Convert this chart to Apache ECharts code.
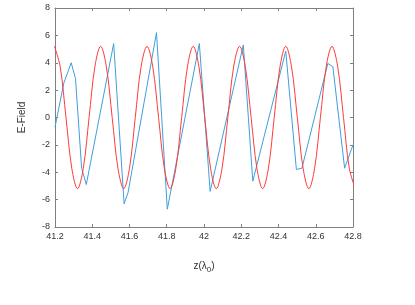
<!DOCTYPE html>
<html>
<head>
<meta charset="utf-8">
<script src="https://cdn.jsdelivr.net/npm/echarts@6/dist/echarts.min.js"></script>
<style>
  html, body { margin: 0; padding: 0; background: #fff; }
  #main { width: 415px; height: 305px; }
</style>
</head>
<body>
<div id="main"></div>
<script>
// red curve
var redZ = [41.197, 41.228, 41.259, 41.290, 41.321, 41.352, 41.383, 41.414,
  41.445, 41.476, 41.507, 41.538, 41.569, 41.600, 41.631, 41.662,
  41.694, 41.725, 41.756, 41.787, 41.818, 41.849, 41.880, 41.911,
  41.942, 41.973, 42.004, 42.035, 42.066, 42.097, 42.128, 42.159,
  42.191, 42.222, 42.253, 42.284, 42.315, 42.346, 42.377, 42.408,
  42.439, 42.470, 42.501, 42.532, 42.563, 42.594, 42.625, 42.656,
  42.687, 42.718, 42.749, 42.780, 42.812];
var redE = [5.2, 3.7, 0, -3.7, -5.2, -3.7, 0, 3.7,
  5.2, 3.7, 0, -3.7, -5.2, -3.7, 0, 3.7,
  5.2, 3.7, 0, -3.7, -5.2, -3.7, 0, 3.7,
  5.2, 3.7, 0, -3.7, -5.2, -3.7, 0, 3.7,
  5.2, 3.7, 0, -3.7, -5.2, -3.7, 0, 3.7,
  5.2, 3.7, 0, -3.7, -5.2, -3.7, 0, 3.7,
  5.2, 3.7, 0, -3.7, -5.2];

// blue jagged line
var blueZ = [41.2, 41.247, 41.287, 41.31, 41.343, 41.368, 41.515, 41.571, 41.592,
  41.745, 41.803, 41.975, 42.033, 42.211, 42.262, 42.439, 42.496, 42.526,
  42.665, 42.692, 42.755, 42.8];
var blueE = [-0.7, 2.5, 4.0, 2.85, -3.7, -4.9, 5.4, -6.3, -5.5,
  6.2, -6.7, 5.4, -5.4, 5.3, -4.65, 4.85, -3.8, -3.7,
  3.95, 3.7, -3.7, -2.0];

var xTicks = { min: 41.2, max: 42.8, step: 0.2 };
var yTicks = { min: -8, max: 8, step: 2 };

function pairs(xs, ys) {
  return xs.map(function (x, i) { return [x, ys[i]]; });
}

var font = 'Liberation Sans Narrow, Liberation Sans, sans-serif';
var axisColor = '#808080';

var chart = echarts.init(document.getElementById('main'), null, { renderer: 'canvas' });

var option = {
  animation: false,
  backgroundColor: '#fff',
  grid: {
    left: 55, right: 62, top: 8, bottom: 78,
    show: false
  },
  xAxis: [{
    type: 'value',
    position: 'bottom',
    min: xTicks.min, max: xTicks.max, interval: xTicks.step,
    name: 'z({l|λ}{s|0})',
    nameLocation: 'middle',
    nameGap: 31,
    nameTextStyle: {
      fontFamily: font, fontSize: 10, color: '#333',
      rich: {
        l: { fontFamily: font, fontSize: 10, color: '#333' },
        s: { fontFamily: font, fontSize: 8, color: '#333', padding: [8, 0, 0, 0] }
      }
    },
    axisLine: { onZero: false, lineStyle: { color: axisColor, width: 1 } },
    axisTick: { inside: true, length: 3, lineStyle: { color: axisColor } },
    axisLabel: {
      fontFamily: font, fontSize: 9, color: '#333', margin: 5,
      formatter: function (v) { return String(parseFloat(v.toFixed(1))); }
    },
    splitLine: { show: false }
  }, {
    type: 'value',
    position: 'top',
    min: xTicks.min, max: xTicks.max, interval: xTicks.step,
    axisLine: { onZero: false, lineStyle: { color: axisColor, width: 1 } },
    axisTick: { inside: true, length: 3, lineStyle: { color: axisColor } },
    axisLabel: { show: false },
    splitLine: { show: false }
  }],
  yAxis: [{
    type: 'value',
    position: 'left',
    min: yTicks.min, max: yTicks.max, interval: yTicks.step,
    name: 'E-Field',
    nameLocation: 'middle',
    nameGap: 28,
    nameTextStyle: { fontFamily: font, fontSize: 10, color: '#333' },
    axisLine: { show: true, onZero: false, lineStyle: { color: axisColor, width: 1 } },
    axisTick: { show: true, inside: true, length: 3, lineStyle: { color: axisColor } },
    axisLabel: { fontFamily: font, fontSize: 9, color: '#333', margin: 5 },
    splitLine: { show: false }
  }, {
    type: 'value',
    position: 'right',
    min: yTicks.min, max: yTicks.max, interval: yTicks.step,
    axisLine: { show: true, onZero: false, lineStyle: { color: axisColor, width: 1 } },
    axisTick: { show: true, inside: true, length: 3, lineStyle: { color: axisColor } },
    axisLabel: { show: false },
    splitLine: { show: false }
  }],
  series: [{
    name: 'blue',
    type: 'line',
    xAxisIndex: 0, yAxisIndex: 0,
    data: pairs(blueZ, blueE),
    showSymbol: false,
    clip: true,
    lineStyle: { color: '#3f9fdc', width: 1 }
  }, {
    name: 'red',
    type: 'line',
    xAxisIndex: 0, yAxisIndex: 0,
    data: pairs(redZ, redE),
    smooth: 0.35,
    showSymbol: false,
    clip: true,
    lineStyle: { color: '#ff3a3a', width: 1 }
  }]
};
chart.setOption(option);
</script>
</body>
</html>
